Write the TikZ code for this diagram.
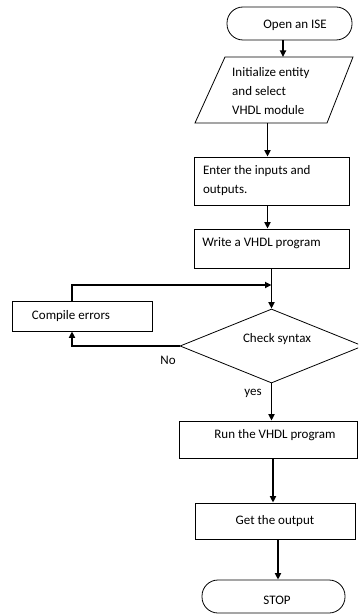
\documentclass[tikz,border=0pt]{standalone}
\usepackage{fontspec}
\setmainfont{Carlito}
\usetikzlibrary{arrows.meta,shapes.geometric,calc}
\begin{document}
\begin{tikzpicture}[x=1bp,y=-1bp,
  every node/.style={font=\fontsize{13bp}{19bp}\selectfont},
  shp/.style={draw, line width=0.8bp, inner sep=0pt},
  boxnode/.style={shp, rectangle},
  term/.style={shp, rectangle, rounded corners=16bp},
  conn/.style={line width=1.8bp, -{Triangle[length=6.5bp,width=6bp]}},
  lbl/.style={inner sep=0pt}
]
\useasboundingbox (0,0) rectangle (358,614);
\clip (0,0) rectangle (358,614);

% start terminal
\node[term, minimum width=125bp, minimum height=33bp,
  label={[name=startT,lbl,xshift=5.5bp,yshift=-2bp]center:Open an ISE}] (start) at (289.5,23.5) {};

% parallelogram
\coordinate (pTL) at (225,57);
\coordinate (pTR) at (353,57);
\coordinate (pBR) at (327,123);
\coordinate (pBL) at (195,123);
\coordinate (pOut) at (267.5,123);
\draw[line width=0.8bp] (pTL) -- (pTR) -- (pBR) -- (pBL) -- cycle;
\node[lbl, align=flush left, anchor=west] (para) at (232,91)
  {Initialize entity\\and select\\VHDL module};

% boxes
\node[boxnode, minimum width=155bp, minimum height=48bp, text width=137bp,
  inner xsep=9bp, align=flush left] (box1) at (271.5,181)
  {Enter the inputs and\\outputs.};
\node[boxnode, minimum width=155bp, minimum height=39bp,
  label={[name=box2T,lbl,xshift=-10bp,yshift=5bp]center:Write a VHDL program}] (box2) at (271.5,248.5) {};
\node[boxnode, minimum width=140bp, minimum height=30bp, text width=100bp,
  inner xsep=20bp, align=flush left] (cerr) at (82,316) {Compile errors};
\node[shp, diamond, minimum width=183bp, minimum height=74bp,
  label={[name=diaT,lbl,xshift=5.5bp,yshift=7bp]center:Check syntax}] (dia) at (271.5,346) {};
\node[boxnode, minimum width=178bp, minimum height=37bp,
  label={[name=runT,lbl,xshift=7bp,yshift=4.5bp]center:Run the VHDL program}] (run) at (268,439.5) {};
\node[boxnode, minimum width=160bp, minimum height=36bp] (get) at (275,521) {Get the output};
\node[term, minimum width=143bp, minimum height=33bp,
  label={[name=stopT,lbl,xshift=3.5bp,yshift=-3.5bp]center:STOP}] (stop) at (273.5,596.5) {};

% branch labels
\node[lbl] (nolbl) at (168,360) {No};
\node[lbl] (yeslbl) at (253,393) {yes};

% connectors
\coordinate (merge) at (271.5,285);
\draw[conn] ([xshift=-6.5bp]start.south) -- ([xshift=-6.5bp]start.south |- pTL);
\draw[conn] (pOut) -- (pOut |- box1.north);
\draw[conn] ([xshift=-4bp]box1.south) -- ([xshift=-4bp]box1.south |- box2.north);
\draw[conn] (box2.south) -- (dia.north);
\draw[conn] ([xshift=-10bp]cerr.north) |- (merge);
\draw[conn] (dia.west) -| ([xshift=-10bp]cerr.south);
\draw[conn] (dia.south) -- (dia.south |- run.north);
\draw[conn] ([xshift=5bp]run.south) -- ([xshift=5bp]run.south |- get.north);
\draw[conn] ([xshift=3bp]get.south) -- ([xshift=3bp]get.south |- stop.north);
\end{tikzpicture}
\end{document}
